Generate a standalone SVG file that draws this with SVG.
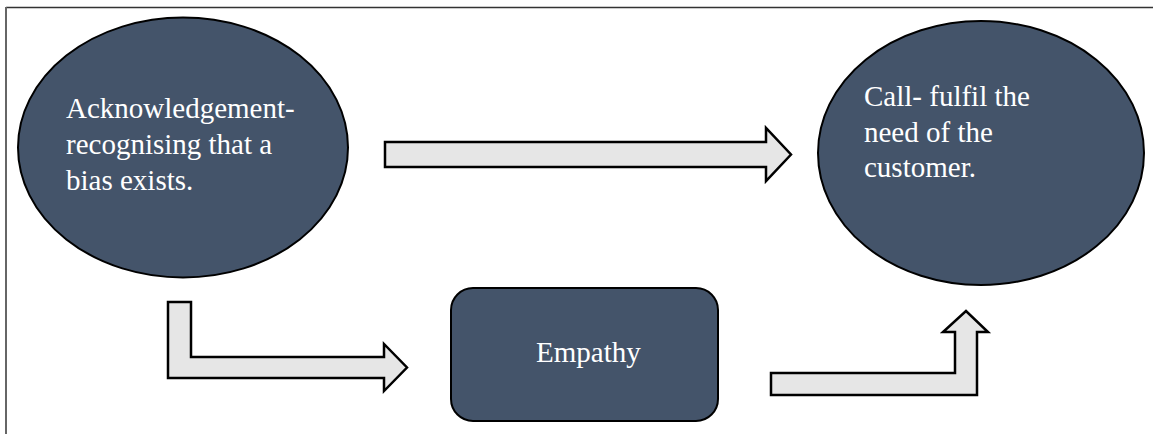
<svg xmlns="http://www.w3.org/2000/svg" width="1153" height="434" viewBox="0 0 1153 434">
<style>
.node{fill:#44546A;stroke:#000;stroke-width:2}
.lbl{font-family:"Liberation Serif","Times New Roman",serif;font-size:29px;fill:#fff}
.arr{fill:#E6E6E6;stroke:#000;stroke-width:2.5;stroke-linejoin:miter}
</style>
<rect width="1153" height="434" fill="#fff"/>
<line x1="6" y1="7.5" x2="1153" y2="7.5" stroke="#333" stroke-width="1.5"/>
<line x1="6" y1="7" x2="6" y2="434" stroke="#666" stroke-width="2"/>
<g id="connectors">
<polygon class="arr" points="385,142 766,142 766,128 791,154.5 766,181 766,167 385,167"/>
<polygon class="arr" points="168,302 191,302 191,357 384,357 384,344 407,367.5 384,391 384,378 168,378"/>
<polygon class="arr" points="771,373 955,373 955,332 943,332 966,311 988,332 977,332 977,395 771,395"/>
</g>
<g id="acknowledgement">
<ellipse class="node" cx="183" cy="147.5" rx="165" ry="130"/>
<text class="lbl" x="66" y="118">Acknowledgement-</text>
<text class="lbl" x="66" y="154">recognising that a</text>
<text class="lbl" x="66" y="190">bias exists.</text>
</g>
<g id="call">
<ellipse class="node" cx="981" cy="153" rx="163" ry="132"/>
<text class="lbl" x="864" y="106">Call- fulfil the</text>
<text class="lbl" x="864" y="142">need of the</text>
<text class="lbl" x="864" y="177">customer.</text>
</g>
<g id="empathy">
<rect class="node" x="451" y="288" width="267" height="133" rx="22" ry="22"/>
<text class="lbl" x="536" y="362">Empathy</text>
</g>
</svg>
